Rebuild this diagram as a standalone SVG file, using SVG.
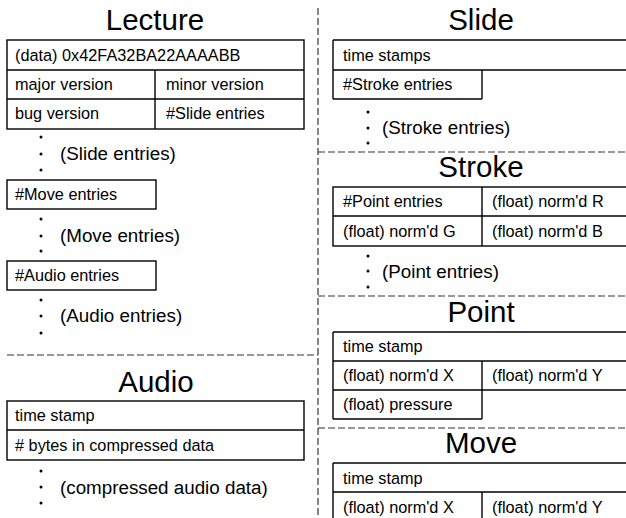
<svg xmlns="http://www.w3.org/2000/svg" width="626" height="518" viewBox="0 0 626 518">
<style>
text{font-family:"Liberation Sans",Arial,sans-serif;fill:#000}
.t{font-size:29.5px;text-anchor:middle}
.c{font-size:16.3px}
.e{font-size:18.8px}
.b{fill:none;stroke:#000;stroke-width:1.4}
.d{fill:none;stroke:#333;stroke-width:1.2;stroke-dasharray:7,3}
.dot{fill:#000}
</style>
<rect width="626" height="518" fill="#fff"/>
<g id="dividers">
<line class="d" x1="318" y1="8" x2="318" y2="518"/>
<line class="d" x1="7" y1="355" x2="318" y2="355"/>
<line class="d" x1="318" y1="152" x2="626" y2="152"/>
<line class="d" x1="318" y1="296" x2="626" y2="296"/>
<line class="d" x1="318" y1="428" x2="626" y2="428"/>
</g>
<g id="lecture">
<text class="t" x="155" y="30">Lecture</text>
<rect class="b" x="7" y="40" width="297" height="89"/>
<line class="b" x1="7" y1="70" x2="304" y2="70"/>
<line class="b" x1="7" y1="99" x2="304" y2="99"/>
<line class="b" x1="155" y1="70" x2="155" y2="129"/>
<text class="c" x="15" y="61">(data) 0x42FA32BA22AAAABB</text>
<text class="c" x="15" y="90">major version</text>
<text class="c" x="166" y="90">minor version</text>
<text class="c" x="15" y="119">bug version</text>
<text class="c" x="166" y="119">#Slide entries</text>
<circle class="dot" cx="41" cy="137" r="1.5"/><circle class="dot" cx="41" cy="154" r="1.5"/><circle class="dot" cx="41" cy="170" r="1.5"/>
<text class="e" x="60" y="160">(Slide entries)</text>
<rect class="b" x="7" y="180" width="149" height="29"/>
<text class="c" x="15" y="200">#Move entries</text>
<circle class="dot" cx="41" cy="219" r="1.5"/><circle class="dot" cx="41" cy="236" r="1.5"/><circle class="dot" cx="41" cy="251" r="1.5"/>
<text class="e" x="60" y="242">(Move entries)</text>
<rect class="b" x="7" y="261" width="149" height="29"/>
<text class="c" x="15" y="281">#Audio entries</text>
<circle class="dot" cx="41" cy="300" r="1.5"/><circle class="dot" cx="41" cy="316" r="1.5"/><circle class="dot" cx="41" cy="333" r="1.5"/>
<text class="e" x="60" y="322">(Audio entries)</text>
</g>
<g id="audio">
<text class="t" x="156" y="392">Audio</text>
<rect class="b" x="7" y="401" width="297" height="59"/>
<line class="b" x1="7" y1="430" x2="304" y2="430"/>
<text class="c" x="15" y="421">time stamp</text>
<text class="c" x="15" y="451"># bytes in compressed data</text>
<circle class="dot" cx="41" cy="471" r="1.5"/><circle class="dot" cx="41" cy="487" r="1.5"/><circle class="dot" cx="41" cy="503" r="1.5"/>
<text class="e" x="60" y="494">(compressed audio data)</text>
</g>
<g id="slide">
<text class="t" x="481" y="30">Slide</text>
<line class="b" x1="333" y1="40" x2="626" y2="40"/>
<line class="b" x1="333" y1="70" x2="626" y2="70"/>
<line class="b" x1="333" y1="40" x2="333" y2="99"/>
<line class="b" x1="482" y1="70" x2="482" y2="99"/>
<line class="b" x1="333" y1="99" x2="482" y2="99"/>
<text class="c" x="343" y="61">time stamps</text>
<text class="c" x="343" y="90">#Stroke entries</text>
<circle class="dot" cx="368" cy="112" r="1.5"/><circle class="dot" cx="368" cy="128" r="1.5"/><circle class="dot" cx="368" cy="143" r="1.5"/>
<text class="e" x="382" y="134">(Stroke entries)</text>
</g>
<g id="stroke">
<text class="t" x="481" y="177">Stroke</text>
<rect class="b" x="333" y="187" width="310" height="59"/>
<line class="b" x1="333" y1="216" x2="626" y2="216"/>
<line class="b" x1="482" y1="187" x2="482" y2="246"/>
<text class="c" x="343" y="207">#Point entries</text>
<text class="c" x="492" y="207">(float) norm'd R</text>
<text class="c" x="343" y="237">(float) norm'd G</text>
<text class="c" x="492" y="237">(float) norm'd B</text>
<circle class="dot" cx="368" cy="256" r="1.5"/><circle class="dot" cx="368" cy="271" r="1.5"/><circle class="dot" cx="368" cy="287" r="1.5"/>
<text class="e" x="382" y="278">(Point entries)</text>
</g>
<g id="point">
<text class="t" x="481" y="322">Point</text>
<line class="b" x1="333" y1="332" x2="626" y2="332"/>
<line class="b" x1="333" y1="361" x2="626" y2="361"/>
<line class="b" x1="333" y1="390" x2="626" y2="390"/>
<line class="b" x1="333" y1="332" x2="333" y2="419"/>
<line class="b" x1="482" y1="361" x2="482" y2="419"/>
<line class="b" x1="333" y1="419" x2="482" y2="419"/>
<text class="c" x="343" y="352">time stamp</text>
<text class="c" x="343" y="381">(float) norm'd X</text>
<text class="c" x="492" y="381">(float) norm'd Y</text>
<text class="c" x="343" y="410">(float) pressure</text>
</g>
<g id="move">
<text class="t" x="481" y="453">Move</text>
<line class="b" x1="333" y1="463" x2="626" y2="463"/>
<line class="b" x1="333" y1="492" x2="626" y2="492"/>
<line class="b" x1="333" y1="463" x2="333" y2="518"/>
<line class="b" x1="482" y1="492" x2="482" y2="518"/>
<text class="c" x="343" y="484">time stamp</text>
<text class="c" x="343" y="513">(float) norm'd X</text>
<text class="c" x="492" y="513">(float) norm'd Y</text>
</g>
</svg>
